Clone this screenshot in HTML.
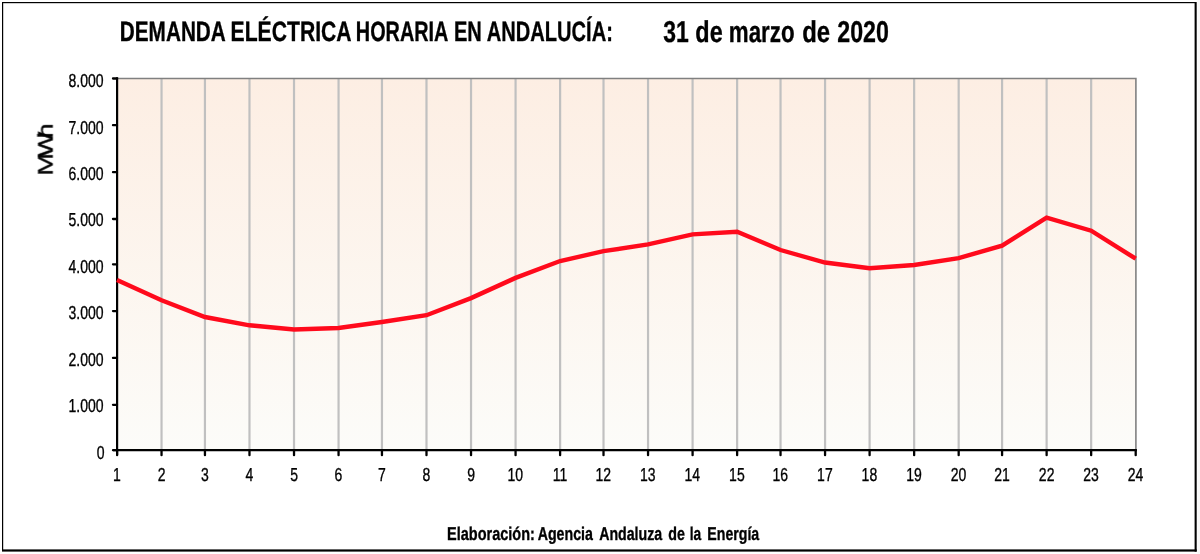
<!DOCTYPE html>
<html><head><meta charset="utf-8"><title>Demanda eléctrica horaria en Andalucía</title>
<style>html,body{margin:0;padding:0;background:#fff;}svg{display:block;}text{font-family:"Liberation Sans",sans-serif;fill:#000;text-rendering:geometricPrecision;stroke:#000;stroke-width:0.35px;vector-effect:non-scaling-stroke;}</style>
</head><body>
<svg width="1200" height="554" viewBox="0 0 1200 554">
<defs><linearGradient id="pg" x1="0" y1="0" x2="0" y2="1"><stop offset="0" stop-color="#fdeee3"/><stop offset="1" stop-color="#fcfcf9"/></linearGradient></defs>
<rect x="0" y="0" width="1200" height="554" fill="#ffffff"/>
<rect x="1197.5" y="0" width="2.5" height="554" fill="#f8f8f8"/>
<rect x="2" y="2" width="1.2" height="549" fill="#000"/>
<rect x="2" y="2" width="1194" height="1.2" fill="#000"/>
<rect x="1194.6" y="2" width="2.1" height="549.6" fill="#000"/>
<rect x="2" y="549.4" width="1194.7" height="2.2" fill="#000"/>
<rect x="117.0" y="78.5" width="1018.70" height="371.70" fill="url(#pg)"/>
<line x1="161.54" y1="78.5" x2="161.54" y2="450.2" stroke="#c0c0c0" stroke-width="2.2"/>
<line x1="204.94" y1="78.5" x2="204.94" y2="450.2" stroke="#c0c0c0" stroke-width="2.2"/>
<line x1="249.48" y1="78.5" x2="249.48" y2="450.2" stroke="#c0c0c0" stroke-width="2.2"/>
<line x1="294.02" y1="78.5" x2="294.02" y2="450.2" stroke="#c0c0c0" stroke-width="2.2"/>
<line x1="338.56" y1="78.5" x2="338.56" y2="450.2" stroke="#c0c0c0" stroke-width="2.2"/>
<line x1="381.95" y1="78.5" x2="381.95" y2="450.2" stroke="#c0c0c0" stroke-width="2.2"/>
<line x1="426.49" y1="78.5" x2="426.49" y2="450.2" stroke="#c0c0c0" stroke-width="2.2"/>
<line x1="471.03" y1="78.5" x2="471.03" y2="450.2" stroke="#c0c0c0" stroke-width="2.2"/>
<line x1="515.57" y1="78.5" x2="515.57" y2="450.2" stroke="#c0c0c0" stroke-width="2.2"/>
<line x1="560.11" y1="78.5" x2="560.11" y2="450.2" stroke="#c0c0c0" stroke-width="2.2"/>
<line x1="603.51" y1="78.5" x2="603.51" y2="450.2" stroke="#c0c0c0" stroke-width="2.2"/>
<line x1="648.05" y1="78.5" x2="648.05" y2="450.2" stroke="#c0c0c0" stroke-width="2.2"/>
<line x1="692.59" y1="78.5" x2="692.59" y2="450.2" stroke="#c0c0c0" stroke-width="2.2"/>
<line x1="737.13" y1="78.5" x2="737.13" y2="450.2" stroke="#c0c0c0" stroke-width="2.2"/>
<line x1="780.53" y1="78.5" x2="780.53" y2="450.2" stroke="#c0c0c0" stroke-width="2.2"/>
<line x1="825.06" y1="78.5" x2="825.06" y2="450.2" stroke="#c0c0c0" stroke-width="2.2"/>
<line x1="869.60" y1="78.5" x2="869.60" y2="450.2" stroke="#c0c0c0" stroke-width="2.2"/>
<line x1="914.14" y1="78.5" x2="914.14" y2="450.2" stroke="#c0c0c0" stroke-width="2.2"/>
<line x1="958.68" y1="78.5" x2="958.68" y2="450.2" stroke="#c0c0c0" stroke-width="2.2"/>
<line x1="1002.08" y1="78.5" x2="1002.08" y2="450.2" stroke="#c0c0c0" stroke-width="2.2"/>
<line x1="1046.62" y1="78.5" x2="1046.62" y2="450.2" stroke="#c0c0c0" stroke-width="2.2"/>
<line x1="1091.16" y1="78.5" x2="1091.16" y2="450.2" stroke="#c0c0c0" stroke-width="2.2"/>
<polyline points="117.0,78.5 1135.90,78.5 1135.90,450.2" fill="none" stroke="#808080" stroke-width="1.6"/>
<line x1="117.1" y1="77.35" x2="117.1" y2="455.2" stroke="#000" stroke-width="2.2"/>
<line x1="117.1" y1="450.2" x2="117.1" y2="455.2" stroke="#000" stroke-width="2.2" stroke-linecap="round"/>
<line x1="113.0" y1="450.2" x2="1136.80" y2="450.2" stroke="#000" stroke-width="2.3"/>
<line x1="113.0" y1="404.80" x2="117.0" y2="404.80" stroke="#000" stroke-width="2.3" stroke-linecap="round"/>
<line x1="113.0" y1="357.90" x2="117.0" y2="357.90" stroke="#000" stroke-width="2.3" stroke-linecap="round"/>
<line x1="113.0" y1="311.10" x2="117.0" y2="311.10" stroke="#000" stroke-width="2.3" stroke-linecap="round"/>
<line x1="113.0" y1="264.30" x2="117.0" y2="264.30" stroke="#000" stroke-width="2.3" stroke-linecap="round"/>
<line x1="113.0" y1="219.00" x2="117.0" y2="219.00" stroke="#000" stroke-width="2.3" stroke-linecap="round"/>
<line x1="113.0" y1="172.20" x2="117.0" y2="172.20" stroke="#000" stroke-width="2.3" stroke-linecap="round"/>
<line x1="113.0" y1="125.20" x2="117.0" y2="125.20" stroke="#000" stroke-width="2.3" stroke-linecap="round"/>
<line x1="113.0" y1="78.50" x2="117.0" y2="78.50" stroke="#000" stroke-width="2.3" stroke-linecap="round"/>
<line x1="113.0" y1="450.20" x2="117.0" y2="450.20" stroke="#000" stroke-width="2.3" stroke-linecap="round"/>
<line x1="161.54" y1="450.2" x2="161.54" y2="455.2" stroke="#000" stroke-width="2.3" stroke-linecap="round"/>
<line x1="204.94" y1="450.2" x2="204.94" y2="455.2" stroke="#000" stroke-width="2.3" stroke-linecap="round"/>
<line x1="249.48" y1="450.2" x2="249.48" y2="455.2" stroke="#000" stroke-width="2.3" stroke-linecap="round"/>
<line x1="294.02" y1="450.2" x2="294.02" y2="455.2" stroke="#000" stroke-width="2.3" stroke-linecap="round"/>
<line x1="338.56" y1="450.2" x2="338.56" y2="455.2" stroke="#000" stroke-width="2.3" stroke-linecap="round"/>
<line x1="381.95" y1="450.2" x2="381.95" y2="455.2" stroke="#000" stroke-width="2.3" stroke-linecap="round"/>
<line x1="426.49" y1="450.2" x2="426.49" y2="455.2" stroke="#000" stroke-width="2.3" stroke-linecap="round"/>
<line x1="471.03" y1="450.2" x2="471.03" y2="455.2" stroke="#000" stroke-width="2.3" stroke-linecap="round"/>
<line x1="515.57" y1="450.2" x2="515.57" y2="455.2" stroke="#000" stroke-width="2.3" stroke-linecap="round"/>
<line x1="560.11" y1="450.2" x2="560.11" y2="455.2" stroke="#000" stroke-width="2.3" stroke-linecap="round"/>
<line x1="603.51" y1="450.2" x2="603.51" y2="455.2" stroke="#000" stroke-width="2.3" stroke-linecap="round"/>
<line x1="648.05" y1="450.2" x2="648.05" y2="455.2" stroke="#000" stroke-width="2.3" stroke-linecap="round"/>
<line x1="692.59" y1="450.2" x2="692.59" y2="455.2" stroke="#000" stroke-width="2.3" stroke-linecap="round"/>
<line x1="737.13" y1="450.2" x2="737.13" y2="455.2" stroke="#000" stroke-width="2.3" stroke-linecap="round"/>
<line x1="780.53" y1="450.2" x2="780.53" y2="455.2" stroke="#000" stroke-width="2.3" stroke-linecap="round"/>
<line x1="825.06" y1="450.2" x2="825.06" y2="455.2" stroke="#000" stroke-width="2.3" stroke-linecap="round"/>
<line x1="869.60" y1="450.2" x2="869.60" y2="455.2" stroke="#000" stroke-width="2.3" stroke-linecap="round"/>
<line x1="914.14" y1="450.2" x2="914.14" y2="455.2" stroke="#000" stroke-width="2.3" stroke-linecap="round"/>
<line x1="958.68" y1="450.2" x2="958.68" y2="455.2" stroke="#000" stroke-width="2.3" stroke-linecap="round"/>
<line x1="1002.08" y1="450.2" x2="1002.08" y2="455.2" stroke="#000" stroke-width="2.3" stroke-linecap="round"/>
<line x1="1046.62" y1="450.2" x2="1046.62" y2="455.2" stroke="#000" stroke-width="2.3" stroke-linecap="round"/>
<line x1="1091.16" y1="450.2" x2="1091.16" y2="455.2" stroke="#000" stroke-width="2.3" stroke-linecap="round"/>
<line x1="1135.70" y1="450.2" x2="1135.70" y2="455.2" stroke="#000" stroke-width="2.3" stroke-linecap="round"/>
<g style="opacity:0.999">
<text transform="translate(96.85,458.50) scale(0.745,1)" font-size="18.8">0</text>
<text transform="translate(68.58,412.08) scale(0.745,1)" font-size="18.8">1.000</text>
<text transform="translate(68.58,365.66) scale(0.745,1)" font-size="18.8">2.000</text>
<text transform="translate(68.58,319.24) scale(0.745,1)" font-size="18.8">3.000</text>
<text transform="translate(68.58,272.82) scale(0.745,1)" font-size="18.8">4.000</text>
<text transform="translate(68.58,226.40) scale(0.745,1)" font-size="18.8">5.000</text>
<text transform="translate(68.58,179.98) scale(0.745,1)" font-size="18.8">6.000</text>
<text transform="translate(68.58,133.56) scale(0.745,1)" font-size="18.8">7.000</text>
<text transform="translate(68.58,87.14) scale(0.745,1)" font-size="18.8">8.000</text>
<text transform="translate(112.92,481.1) scale(0.745,1)" font-size="18.8">1</text>
<text transform="translate(157.65,481.1) scale(0.745,1)" font-size="18.8">2</text>
<text transform="translate(201.09,481.1) scale(0.745,1)" font-size="18.8">3</text>
<text transform="translate(245.62,481.1) scale(0.745,1)" font-size="18.8">4</text>
<text transform="translate(290.13,481.1) scale(0.745,1)" font-size="18.8">5</text>
<text transform="translate(334.62,481.1) scale(0.745,1)" font-size="18.8">6</text>
<text transform="translate(378.05,481.1) scale(0.745,1)" font-size="18.8">7</text>
<text transform="translate(422.61,481.1) scale(0.745,1)" font-size="18.8">8</text>
<text transform="translate(467.13,481.1) scale(0.745,1)" font-size="18.8">9</text>
<text transform="translate(507.54,481.1) scale(0.745,1)" font-size="18.8">10</text>
<text transform="translate(552.65,481.1) scale(0.745,1)" font-size="18.8">11</text>
<text transform="translate(595.56,481.1) scale(0.745,1)" font-size="18.8">12</text>
<text transform="translate(640.05,481.1) scale(0.745,1)" font-size="18.8">13</text>
<text transform="translate(684.48,481.1) scale(0.745,1)" font-size="18.8">14</text>
<text transform="translate(729.11,481.1) scale(0.745,1)" font-size="18.8">15</text>
<text transform="translate(772.52,481.1) scale(0.745,1)" font-size="18.8">16</text>
<text transform="translate(817.12,481.1) scale(0.745,1)" font-size="18.8">17</text>
<text transform="translate(861.60,481.1) scale(0.745,1)" font-size="18.8">18</text>
<text transform="translate(906.16,481.1) scale(0.745,1)" font-size="18.8">19</text>
<text transform="translate(950.82,481.1) scale(0.745,1)" font-size="18.8">20</text>
<text transform="translate(994.29,481.1) scale(0.745,1)" font-size="18.8">21</text>
<text transform="translate(1038.85,481.1) scale(0.745,1)" font-size="18.8">22</text>
<text transform="translate(1083.33,481.1) scale(0.745,1)" font-size="18.8">23</text>
<text transform="translate(1127.77,481.1) scale(0.745,1)" font-size="18.8">24</text>
</g>
<polyline points="117.00,279.90 161.54,300.30 204.94,317.00 249.48,325.30 294.02,329.50 338.56,328.00 381.95,322.00 426.49,315.20 471.03,298.10 515.57,277.90 560.11,261.00 603.51,251.20 648.05,244.40 692.59,234.40 737.13,231.70 780.53,250.00 825.06,262.50 869.60,268.30 914.14,265.00 958.68,258.20 1002.08,245.70 1046.62,217.60 1091.16,230.70 1135.70,258.70" fill="none" stroke="#ff0a1c" stroke-width="4.4" stroke-linejoin="miter" stroke-linecap="butt"/>
<g style="opacity:0.999">
<text transform="translate(119.80,40.70) scale(0.7410,1)" font-size="28.0" font-weight="bold">DEMANDA</text>
<text transform="translate(230.57,40.70) scale(0.7552,1)" font-size="28.0" font-weight="bold">ELÉCTRICA</text>
<text transform="translate(355.86,40.70) scale(0.7084,1)" font-size="28.0" font-weight="bold">HORARIA</text>
<text transform="translate(453.94,40.70) scale(0.7171,1)" font-size="28.0" font-weight="bold">EN</text>
<text transform="translate(486.80,40.70) scale(0.7175,1)" font-size="28.0" font-weight="bold">ANDALUCÍA:</text>
<text transform="translate(663.28,41.80) scale(0.7642,1)" font-size="30.0" font-weight="bold">31</text>
<text transform="translate(695.36,41.80) scale(0.7811,1)" font-size="30.0" font-weight="bold">de</text>
<text transform="translate(728.75,41.80) scale(0.7452,1)" font-size="30.0" font-weight="bold">marzo</text>
<text transform="translate(802.14,41.80) scale(0.7963,1)" font-size="30.0" font-weight="bold">de</text>
<text transform="translate(837.29,41.80) scale(0.7730,1)" font-size="30.0" font-weight="bold">2020</text>
<text transform="translate(52.6,175.6) rotate(-90) scale(1.28,1)" font-size="21.2" dx="0 -3.3 -5.3" stroke="#000" stroke-width="0.3" style="vector-effect:non-scaling-stroke">MWh</text>
<text transform="translate(447.12,539.50) scale(0.7831,1)" font-size="18.5" font-weight="bold">Elaboración:</text>
<text transform="translate(537.64,539.50) scale(0.7677,1)" font-size="18.5" font-weight="bold">Agencia</text>
<text transform="translate(599.15,539.50) scale(0.7667,1)" font-size="18.5" font-weight="bold">Andaluza</text>
<text transform="translate(668.33,539.50) scale(0.7718,1)" font-size="18.5" font-weight="bold">de</text>
<text transform="translate(689.64,539.50) scale(0.7441,1)" font-size="18.5" font-weight="bold">la</text>
<text transform="translate(707.35,539.50) scale(0.7642,1)" font-size="18.5" font-weight="bold">Energía</text>
</g>
</svg>
</body></html>
